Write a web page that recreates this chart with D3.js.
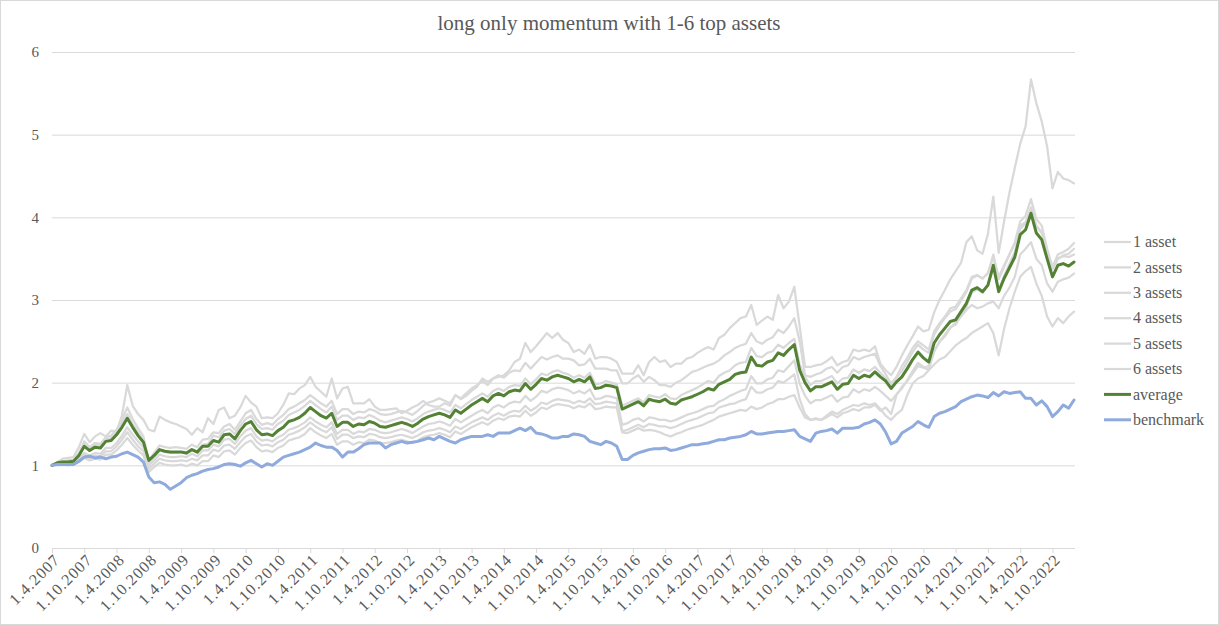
<!DOCTYPE html>
<html>
<head>
<meta charset="utf-8">
<script src="https://cdn.jsdelivr.net/npm/d3@7"></script>
<style>
  body { margin: 0; background: #fff; }
  svg text { font-family: "Liberation Serif", "Times New Roman", serif; fill: #595959; }
</style>
</head>
<body>
<svg id="chart"></svg>
<script>
/* global d3 */

// month index 0 = 1.4.2007, last = 1.2.2023
var tickLabels = ["1.4.2007","1.10.2007","1.4.2008","1.10.2008","1.4.2009","1.10.2009","1.4.2010","1.10.2010",
  "1.4.2011","1.10.2011","1.4.2012","1.10.2012","1.4.2013","1.10.2013","1.4.2014","1.10.2014",
  "1.4.2015","1.10.2015","1.4.2016","1.10.2016","1.4.2017","1.10.2017","1.4.2018","1.10.2018",
  "1.4.2019","1.10.2019","1.4.2020","1.10.2020","1.4.2021","1.10.2021","1.4.2022","1.10.2022"];

var seriesNames = ["1 asset","2 assets","3 assets","4 assets","5 assets","6 assets","average","benchmark"];

var asset1 = [1.00,1.04,1.08,1.09,1.10,1.22,1.38,1.28,1.35,1.39,
  1.35,1.42,1.41,1.60,1.97,1.72,1.62,1.55,1.43,1.41,
  1.59,1.55,1.52,1.50,1.47,1.44,1.37,1.45,1.40,1.57,
  1.50,1.67,1.70,1.57,1.60,1.70,1.84,1.76,1.71,1.57,
  1.58,1.57,1.63,1.73,1.87,1.86,1.93,1.97,2.07,1.95,
  1.89,1.83,2.05,1.81,1.93,1.95,1.75,1.75,1.75,1.80,
  1.71,1.67,1.67,1.68,1.69,1.63,1.66,1.70,1.73,1.78,
  1.73,1.71,1.71,1.75,1.72,1.85,1.80,1.84,1.90,1.95,
  2.05,2.01,2.05,2.07,2.09,2.15,2.25,2.29,2.48,2.37,
  2.44,2.52,2.60,2.54,2.60,2.52,2.48,2.37,2.40,2.35,
  2.46,2.29,2.31,2.31,2.29,2.25,2.11,2.11,2.11,2.21,
  2.09,2.25,2.31,2.25,2.27,2.19,2.23,2.23,2.29,2.31,
  2.36,2.40,2.43,2.40,2.54,2.58,2.66,2.72,2.78,2.80,
  2.94,2.70,2.75,2.80,2.76,3.06,2.90,2.98,3.16,2.68,
  2.19,2.19,2.21,2.22,2.26,2.31,2.21,2.25,2.27,2.40,
  2.38,2.40,2.38,2.44,2.23,2.15,2.09,2.19,2.33,2.45,
  2.56,2.68,2.62,2.64,2.85,3.00,3.12,3.25,3.35,3.45,
  3.70,3.77,3.60,3.56,3.80,4.25,3.57,3.95,4.30,4.60,
  4.89,5.10,5.67,5.38,5.16,4.86,4.35,4.55,4.47,4.45,
  4.41];

var asset2 = [1.00,1.03,1.05,1.06,1.07,1.15,1.29,1.22,1.27,1.26,
  1.34,1.36,1.43,1.55,1.70,1.56,1.45,1.35,1.05,1.15,
  1.24,1.22,1.21,1.22,1.21,1.20,1.25,1.22,1.31,1.32,
  1.40,1.39,1.47,1.50,1.43,1.53,1.63,1.67,1.56,1.49,
  1.51,1.49,1.56,1.61,1.68,1.71,1.75,1.79,1.85,1.80,
  1.75,1.71,1.78,1.62,1.68,1.68,1.62,1.65,1.64,1.68,
  1.66,1.62,1.61,1.62,1.64,1.66,1.64,1.61,1.66,1.72,
  1.76,1.78,1.81,1.78,1.75,1.85,1.81,1.87,1.93,1.97,
  2.02,1.97,2.05,2.09,2.06,2.12,2.15,2.14,2.24,2.17,
  2.24,2.31,2.28,2.31,2.33,2.29,2.29,2.27,2.21,2.22,
  2.29,2.17,2.17,2.17,2.15,2.15,1.99,1.99,2.05,2.09,
  2.01,2.07,2.03,1.97,1.97,1.95,2.00,2.03,2.08,2.13,
  2.15,2.18,2.21,2.23,2.27,2.33,2.37,2.42,2.45,2.47,
  2.60,2.50,2.47,2.52,2.55,2.64,2.60,2.68,2.78,2.50,
  2.09,2.07,2.10,2.12,2.17,2.19,2.12,2.19,2.21,2.31,
  2.28,2.31,2.33,2.35,2.20,2.10,1.99,2.07,2.20,2.30,
  2.42,2.50,2.45,2.40,2.62,2.72,2.80,2.90,2.92,3.02,
  3.12,3.28,3.30,3.26,3.32,3.55,3.25,3.40,3.55,3.70,
  3.95,4.02,4.22,3.98,3.90,3.62,3.40,3.55,3.58,3.62,
  3.69];

var asset3 = [1.00,1.03,1.05,1.05,1.06,1.14,1.26,1.21,1.25,1.24,
  1.32,1.33,1.41,1.51,1.62,1.50,1.40,1.30,1.02,1.10,
  1.18,1.16,1.15,1.15,1.16,1.14,1.19,1.17,1.25,1.26,
  1.36,1.34,1.42,1.44,1.38,1.48,1.56,1.60,1.50,1.44,
  1.45,1.43,1.50,1.54,1.61,1.64,1.67,1.72,1.78,1.73,
  1.68,1.64,1.71,1.55,1.60,1.60,1.55,1.58,1.57,1.61,
  1.58,1.54,1.52,1.54,1.56,1.58,1.56,1.53,1.57,1.62,
  1.65,1.67,1.69,1.67,1.64,1.73,1.69,1.74,1.79,1.83,
  1.87,1.83,1.90,1.93,1.90,1.95,1.97,1.96,2.05,1.98,
  2.04,2.11,2.09,2.13,2.15,2.12,2.10,2.06,2.09,2.06,
  2.12,1.98,1.99,2.02,2.00,1.98,1.72,1.75,1.78,1.81,
  1.76,1.85,1.83,1.82,1.86,1.81,1.80,1.85,1.88,1.91,
  1.94,1.98,2.02,2.00,2.08,2.12,2.15,2.21,2.24,2.25,
  2.42,2.32,2.31,2.36,2.38,2.46,2.42,2.48,2.53,2.22,
  2.07,1.97,2.02,2.02,2.05,2.08,1.99,2.05,2.06,2.16,
  2.12,2.16,2.14,2.19,2.12,2.05,1.97,2.06,2.14,2.25,
  2.37,2.46,2.40,2.36,2.58,2.69,2.78,2.86,2.89,2.99,
  3.10,3.26,3.30,3.26,3.33,3.52,3.28,3.42,3.55,3.68,
  3.90,3.94,4.10,3.90,3.82,3.60,3.38,3.50,3.54,3.56,
  3.62];

var asset4 = [1.00,1.02,1.03,1.02,1.03,1.08,1.15,1.12,1.15,1.14,
  1.21,1.21,1.27,1.36,1.46,1.37,1.29,1.22,1.00,1.06,
  1.13,1.11,1.10,1.10,1.11,1.10,1.14,1.11,1.18,1.18,
  1.25,1.23,1.31,1.32,1.26,1.35,1.42,1.45,1.35,1.30,
  1.31,1.29,1.34,1.37,1.43,1.45,1.48,1.52,1.58,1.53,
  1.49,1.46,1.52,1.38,1.43,1.43,1.38,1.41,1.40,1.44,
  1.43,1.40,1.39,1.40,1.42,1.44,1.42,1.39,1.43,1.47,
  1.50,1.51,1.53,1.51,1.48,1.56,1.52,1.56,1.60,1.64,
  1.67,1.63,1.70,1.73,1.70,1.75,1.77,1.76,1.84,1.78,
  1.83,1.90,1.88,1.92,1.94,1.93,1.91,1.87,1.90,1.87,
  1.92,1.80,1.81,1.84,1.83,1.81,1.49,1.51,1.55,1.57,
  1.53,1.58,1.57,1.55,1.55,1.53,1.55,1.58,1.61,1.63,
  1.65,1.68,1.71,1.72,1.77,1.80,1.84,1.87,1.90,1.92,
  2.08,1.99,1.99,2.04,2.06,2.15,2.13,2.20,2.27,1.99,
  1.84,1.75,1.79,1.79,1.82,1.85,1.77,1.82,1.83,1.92,
  1.88,1.92,1.90,1.95,1.90,1.84,1.78,1.86,1.93,2.03,
  2.14,2.24,2.19,2.15,2.38,2.49,2.58,2.67,2.70,2.81,
  2.92,3.09,3.13,3.09,3.18,3.38,3.12,3.29,3.44,3.58,
  3.86,3.93,4.12,3.89,3.81,3.60,3.37,3.50,3.53,3.52,
  3.55];

var asset5 = [1.00,1.01,1.02,1.01,1.02,1.06,1.12,1.09,1.12,1.11,
  1.17,1.17,1.23,1.31,1.40,1.31,1.23,1.17,0.96,1.02,
  1.08,1.06,1.05,1.05,1.06,1.05,1.08,1.06,1.12,1.12,
  1.19,1.17,1.24,1.25,1.20,1.28,1.35,1.38,1.29,1.24,
  1.25,1.23,1.28,1.31,1.37,1.39,1.42,1.46,1.52,1.47,
  1.43,1.40,1.46,1.32,1.37,1.37,1.33,1.35,1.34,1.38,
  1.37,1.34,1.33,1.34,1.36,1.37,1.35,1.33,1.36,1.40,
  1.42,1.43,1.45,1.43,1.40,1.47,1.44,1.48,1.52,1.55,
  1.58,1.55,1.60,1.63,1.60,1.64,1.66,1.65,1.72,1.66,
  1.70,1.76,1.74,1.78,1.80,1.79,1.78,1.75,1.78,1.76,
  1.81,1.74,1.75,1.77,1.76,1.75,1.41,1.43,1.46,1.49,
  1.46,1.50,1.49,1.47,1.47,1.45,1.47,1.50,1.53,1.55,
  1.57,1.60,1.63,1.64,1.70,1.72,1.74,1.75,1.78,1.80,
  1.95,1.88,1.88,1.92,1.94,2.02,2.00,2.05,2.10,1.80,
  1.62,1.55,1.57,1.55,1.58,1.62,1.58,1.63,1.65,1.68,
  1.66,1.70,1.70,1.73,1.66,1.70,1.62,1.85,1.95,2.02,
  2.11,2.20,2.18,2.20,2.38,2.50,2.56,2.66,2.73,2.80,
  2.88,2.94,2.90,2.92,2.96,2.98,2.90,3.05,3.15,3.28,
  3.55,3.62,3.70,3.50,3.42,3.20,3.10,3.22,3.25,3.27,
  3.32];

var asset6 = [1.00,1.01,1.01,1.00,1.01,1.04,1.09,1.06,1.08,1.07,
  1.13,1.13,1.18,1.25,1.33,1.25,1.18,1.12,0.92,0.98,
  1.03,1.01,1.00,1.00,1.01,0.99,1.02,1.00,1.05,1.05,
  1.12,1.10,1.17,1.18,1.13,1.21,1.27,1.30,1.22,1.17,
  1.18,1.16,1.21,1.24,1.30,1.32,1.34,1.38,1.45,1.40,
  1.36,1.33,1.38,1.25,1.29,1.29,1.25,1.28,1.27,1.31,
  1.30,1.27,1.27,1.28,1.30,1.31,1.29,1.27,1.30,1.34,
  1.36,1.37,1.39,1.37,1.34,1.41,1.38,1.42,1.46,1.49,
  1.52,1.49,1.54,1.57,1.55,1.59,1.60,1.59,1.66,1.60,
  1.64,1.70,1.68,1.72,1.74,1.73,1.72,1.69,1.72,1.70,
  1.75,1.68,1.69,1.71,1.70,1.70,1.40,1.39,1.42,1.45,
  1.42,1.43,1.42,1.40,1.37,1.35,1.38,1.40,1.43,1.45,
  1.47,1.49,1.52,1.55,1.59,1.61,1.63,1.65,1.67,1.66,
  1.71,1.68,1.70,1.74,1.76,1.80,1.80,1.83,1.85,1.70,
  1.58,1.55,1.56,1.55,1.60,1.65,1.62,1.67,1.70,1.73,
  1.72,1.75,1.73,1.75,1.68,1.60,1.55,1.62,1.67,1.85,
  1.99,2.05,2.08,2.15,2.22,2.28,2.31,2.38,2.45,2.50,
  2.54,2.60,2.64,2.68,2.72,2.60,2.33,2.65,2.90,3.10,
  3.28,3.35,3.40,3.20,3.05,2.80,2.68,2.78,2.72,2.80,
  2.86];

var average = [1.00,1.03,1.04,1.04,1.05,1.12,1.23,1.18,1.22,1.21,
  1.29,1.30,1.37,1.46,1.57,1.46,1.36,1.28,1.06,1.12,
  1.19,1.17,1.16,1.16,1.16,1.15,1.19,1.16,1.23,1.23,
  1.30,1.28,1.37,1.38,1.32,1.42,1.50,1.53,1.43,1.37,
  1.38,1.36,1.42,1.46,1.53,1.55,1.58,1.63,1.70,1.65,
  1.60,1.57,1.63,1.47,1.52,1.52,1.47,1.50,1.49,1.53,
  1.51,1.47,1.46,1.48,1.50,1.52,1.50,1.47,1.51,1.56,
  1.59,1.61,1.63,1.61,1.58,1.67,1.63,1.68,1.73,1.77,
  1.81,1.77,1.84,1.87,1.84,1.89,1.91,1.90,1.99,1.92,
  1.98,2.05,2.03,2.07,2.09,2.07,2.05,2.01,2.04,2.01,
  2.07,1.93,1.94,1.97,1.96,1.94,1.68,1.71,1.74,1.77,
  1.72,1.80,1.78,1.77,1.80,1.75,1.74,1.79,1.81,1.83,
  1.86,1.89,1.93,1.91,1.98,2.01,2.04,2.10,2.12,2.13,
  2.31,2.21,2.20,2.25,2.27,2.36,2.33,2.40,2.46,2.15,
  2.00,1.90,1.95,1.95,1.98,2.01,1.92,1.98,1.99,2.09,
  2.05,2.09,2.07,2.13,2.07,2.02,1.93,2.01,2.07,2.17,
  2.28,2.37,2.30,2.25,2.48,2.58,2.66,2.74,2.76,2.86,
  2.96,3.12,3.15,3.10,3.18,3.42,3.10,3.26,3.39,3.52,
  3.79,3.85,4.05,3.81,3.73,3.50,3.28,3.42,3.44,3.41,
  3.46];

var benchmark = [1.00,1.01,1.01,1.01,1.01,1.05,1.10,1.11,1.09,1.10,
  1.08,1.10,1.11,1.14,1.16,1.13,1.10,1.04,0.86,0.79,
  0.80,0.77,0.71,0.75,0.79,0.85,0.88,0.90,0.93,0.95,
  0.96,0.98,1.01,1.02,1.01,0.99,1.03,1.06,1.02,0.98,
  1.02,1.00,1.05,1.10,1.12,1.14,1.16,1.19,1.22,1.27,
  1.24,1.22,1.22,1.18,1.10,1.16,1.16,1.20,1.25,1.27,
  1.27,1.27,1.21,1.25,1.27,1.29,1.27,1.28,1.29,1.31,
  1.33,1.31,1.35,1.32,1.29,1.27,1.31,1.33,1.35,1.35,
  1.35,1.37,1.35,1.39,1.39,1.39,1.42,1.45,1.42,1.46,
  1.39,1.38,1.36,1.33,1.33,1.35,1.35,1.38,1.37,1.35,
  1.29,1.27,1.25,1.29,1.27,1.23,1.07,1.07,1.12,1.15,
  1.17,1.19,1.20,1.20,1.21,1.18,1.19,1.21,1.23,1.25,
  1.25,1.26,1.27,1.29,1.31,1.31,1.33,1.34,1.35,1.37,
  1.41,1.38,1.38,1.39,1.40,1.41,1.41,1.42,1.43,1.35,
  1.32,1.29,1.39,1.41,1.42,1.44,1.39,1.45,1.45,1.45,
  1.46,1.50,1.52,1.55,1.50,1.40,1.26,1.29,1.39,1.43,
  1.47,1.53,1.49,1.46,1.59,1.63,1.65,1.68,1.71,1.77,
  1.80,1.83,1.85,1.84,1.82,1.88,1.84,1.89,1.87,1.88,
  1.89,1.81,1.81,1.73,1.78,1.71,1.59,1.65,1.73,1.69,
  1.79];

var gray = "#d9d9d9";
var series = [
  { name: seriesNames[0], values: asset1, color: gray, width: 2.25 },
  { name: seriesNames[1], values: asset2, color: gray, width: 2.25 },
  { name: seriesNames[2], values: asset3, color: gray, width: 2.25 },
  { name: seriesNames[3], values: asset4, color: gray, width: 2.25 },
  { name: seriesNames[4], values: asset5, color: gray, width: 2.25 },
  { name: seriesNames[5], values: asset6, color: gray, width: 2.25 },
  { name: seriesNames[6], values: average, color: "#548235", width: 3 },
  { name: seriesNames[7], values: benchmark, color: "#8faadc", width: 3 }
];

var width = 1219,
  height = 625,
  plot = { left: 52, right: 1075, top: 52, bottom: 548 };

var svg = d3.select("#chart")
  .attr("width", width)
  .attr("height", height);

// chart border
svg.append("rect")
  .attr("x", 0.5).attr("y", 0.5)
  .attr("width", width - 1).attr("height", height - 1)
  .attr("fill", "#fff")
  .attr("stroke", "#d9d9d9");

var x = d3.scaleLinear()
  .domain([0, average.length - 1])
  .range([plot.left, plot.right - 1]);

var y = d3.scaleLinear()
  .domain([0, 6])
  .range([plot.bottom, plot.top]);

// y axis + gridlines
var yAxis = svg.append("g")
  .attr("transform", "translate(" + plot.left + ",0)")
  .call(d3.axisLeft(y).ticks(6).tickSize(-(plot.right - plot.left)).tickPadding(13));
yAxis.select(".domain").remove();
yAxis.selectAll("line").attr("stroke", "#d9d9d9");
yAxis.selectAll("text")
  .style("font-size", "15px");

// x axis, one tick every 6 months
var xAxis = svg.append("g")
  .attr("transform", "translate(0," + plot.bottom + ")")
  .call(d3.axisBottom(x)
    .tickValues(d3.range(0, tickLabels.length * 6, 6))
    .tickSize(5)
    .tickFormat(function (d, i) { return tickLabels[i]; }));
xAxis.select(".domain")
  .attr("d", "M" + plot.left + ",0.5H" + plot.right)
  .attr("stroke", "#d9d9d9");
xAxis.selectAll("line").attr("stroke", "#d9d9d9");
xAxis.selectAll("text")
  .style("font-size", "16px")
  .style("letter-spacing", "1px")
  .attr("text-anchor", "end")
  .attr("x", -3)
  .attr("y", 15)
  .attr("dy", 0)
  .attr("transform", "rotate(-45)");

// lines
var line = d3.line()
  .x(function (d, i) { return x(i); })
  .y(function (d) { return y(d); });

svg.append("g")
  .selectAll("path")
  .data(series)
  .enter().append("path")
  .attr("fill", "none")
  .attr("stroke", function (d) { return d.color; })
  .attr("stroke-width", function (d) { return d.width; })
  .attr("stroke-linejoin", "round")
  .attr("stroke-linecap", "round")
  .attr("d", function (d) { return line(d.values); });

// title
svg.append("text")
  .attr("x", 609)
  .attr("y", 30)
  .attr("text-anchor", "middle")
  .style("font-size", "21px")
  .text("long only momentum with 1-6 top assets");

// legend
var legend = svg.append("g")
  .attr("transform", "translate(1104,242)");

var item = legend.selectAll("g")
  .data(series)
  .enter().append("g")
  .attr("transform", function (d, i) { return "translate(0," + (i * 25.4) + ")"; });

item.append("line")
  .attr("x1", 0).attr("x2", 27)
  .attr("stroke", function (d) { return d.color; })
  .attr("stroke-width", function (d) { return d.width; });

item.append("text")
  .attr("x", 29)
  .attr("dy", "0.33em")
  .style("font-size", "16px")
  .text(function (d) { return d.name; });
</script>
</body>
</html>
